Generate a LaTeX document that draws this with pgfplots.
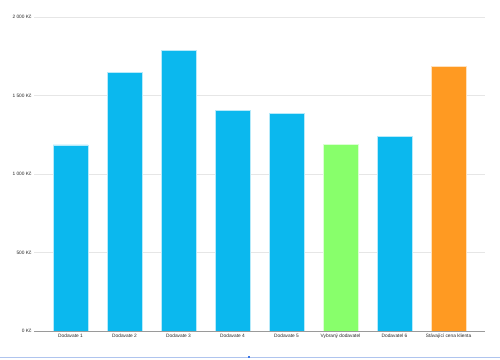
\documentclass[border=0pt]{standalone}
\usepackage{pgfplots}
\pgfplotsset{compat=1.18}
\usepackage{fontspec}
\setmainfont{Liberation Sans}
\definecolor{barblue}{HTML}{0BB8EE}
\definecolor{bargreen}{HTML}{88FF6B}
\definecolor{barorange}{HTML}{FF9A22}
\definecolor{gridgray}{HTML}{E6E6E6}
\definecolor{axisgray}{HTML}{9A9A9A}
\definecolor{scrollblue}{HTML}{AFC4EE}
\definecolor{scrolldot}{HTML}{3B78E7}
\begin{document}
\begin{tikzpicture}
\path[use as bounding box] (-34pt,-28pt) rectangle (466pt,331pt);
\begin{axis}[
  scale only axis,
  width=451pt, height=314pt,
  at={(0,0)}, anchor=south west,
  ymin=0, ymax=2000,
  xmin=-0.676, xmax=7.676,
  ytick={0,500,1000,1500,2000},
  yticklabels={0 Kč,500 Kč,1 000 Kč,1 500 Kč,2 000 Kč},
  xtick={0,1,2,3,4,5,6,7},
  xticklabels={Dodavate 1,Dodavate 2,Dodavate 3,Dodavate 4,Dodavate 5,Vybraný dodavatel,Dodavatel 6,Stávající cena klienta},
  ticklabel style={font=\fontsize{4.8}{5}\selectfont, text=black!85},
  yticklabel style={xshift=1pt},
  xticklabel style={yshift=1pt},
  major tick length=0pt,
  ymajorgrids,
  grid style={gridgray, line width=0.6pt},
  axis line style={draw=none},
  axis x line*=bottom,
  axis y line*=left,
  ybar, bar width=35pt, bar shift=0pt,
  clip=false,
]
\addplot[fill=barblue, draw=white!70!barblue, line width=0.5pt] coordinates {(0,1185) (1,1645) (2,1788) (3,1403) (4,1387) (6,1238)};
\addplot[fill=bargreen, draw=white!70!bargreen, line width=0.5pt] coordinates {(5,1189)};
\addplot[fill=barorange, draw=white!70!barorange, line width=0.5pt] coordinates {(7,1686)};
\draw[axisgray, line width=0.6pt] (rel axis cs:0,0) -- (rel axis cs:1,0);
\end{axis}
\draw[scrollblue, line width=0.8pt] (-34pt,-26pt) -- (466pt,-26pt);
\fill[scrolldot] (213.8pt,-27.3pt) rectangle (216.2pt,-24.7pt);
\end{tikzpicture}
\end{document}
